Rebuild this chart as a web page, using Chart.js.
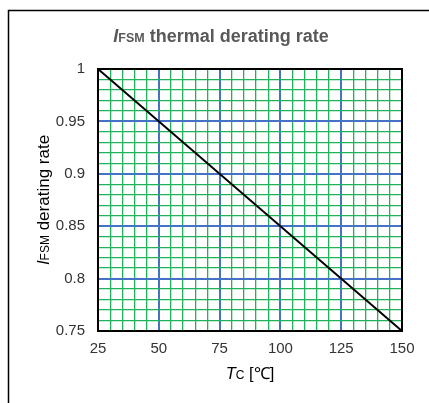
<!DOCTYPE html>
<html>
<head>
<meta charset="utf-8">
<script src="https://cdn.jsdelivr.net/npm/chart.js@4/dist/chart.umd.min.js"></script>
<style>
  html, body { margin: 0; padding: 0; background: #fff; }
  #wrap { width: 429px; height: 403px; }
</style>
</head>
<body>
<div id="wrap"><canvas id="derating"></canvas></div>
<script>
// case temperature [degC] and derating rate at the ends of the line
const tcValues = [25, 150];
const rateValues = [1, 0.75];

const xRange = [25, 150];
const yRange = [0.75, 1];

const FONT = "'Liberation Sans', Arial, sans-serif";
const GREEN = '#1fb25a';
const BLUE = '#4472c4';

Chart.defaults.font.family = FONT;
Chart.defaults.font.size = 15;
Chart.defaults.color = '#333';

// draws a run of text pieces with their own fonts, starting at x
function drawRuns(ctx, runs, x, y) {
    runs.forEach(function (r) {
        ctx.font = r.font;
        ctx.fillText(r.text, x, y);
        x += ctx.measureText(r.text).width;
    });
}
function runsWidth(ctx, runs) {
    let w = 0;
    runs.forEach(function (r) {
        ctx.font = r.font;
        w += ctx.measureText(r.text).width;
    });
    return w;
}

let labels = {
    id: 'labels',
    afterDraw: (chart) => {
        const ctx = chart.ctx;
        const area = chart.chartArea;
        ctx.save();
        ctx.textBaseline = 'alphabetic';

        // outer frame
        ctx.strokeStyle = '#000';
        ctx.lineWidth = 1.5;
        ctx.beginPath();
        ctx.moveTo(8.5, 420);
        ctx.lineTo(8.5, 10.5);
        ctx.lineTo(440, 10.5);
        ctx.stroke();

        // title
        ctx.fillStyle = '#595959';
        let title = [
            { text: 'I', font: 'italic bold 18px ' + FONT },
            { text: 'FSM', font: 'bold 12.5px ' + FONT },
            { text: ' thermal derating rate', font: 'bold 18px ' + FONT }
        ];
        let tw = runsWidth(ctx, title);
        drawRuns(ctx, title, 221 - tw / 2, 42);

        // y axis title
        ctx.fillStyle = '#000';
        let ytitle = [
            { text: 'I', font: 'italic 17px ' + FONT },
            { text: 'FSM', font: '12px ' + FONT },
            { text: ' derating rate', font: '17px ' + FONT }
        ];
        let yw = runsWidth(ctx, ytitle);
        ctx.save();
        ctx.translate(49, (area.top + area.bottom) / 2);
        ctx.rotate(-Math.PI / 2);
        drawRuns(ctx, ytitle, -yw / 2, 0);
        ctx.restore();

        // x axis title
        let xtitle = [
            { text: 'T', font: 'italic 16.5px ' + FONT },
            { text: 'C', font: '12px ' + FONT },
            { text: ' [\u2103]', font: '16.5px ' + FONT }
        ];
        let xw = runsWidth(ctx, xtitle);
        drawRuns(ctx, xtitle, (area.left + area.right) / 2 - xw / 2, 379);

        ctx.restore();
    }
};

const xMajor = (v) => Math.round(v) % 25 === 0;
const yMajor = (v) => Math.round(v * 100) % 5 === 0;

function gridColor(major) {
    return function (c) {
        if (c.tick === undefined) return GREEN;
        return major(c.tick.value) ? BLUE : GREEN;
    };
}
function gridWidth(major) {
    return function (c) {
        if (c.tick === undefined) return 1.3;
        return major(c.tick.value) ? 2 : 1.3;
    };
}

new Chart(document.getElementById('derating'), {
    type: 'scatter',
    data: {
        datasets: [{
            data: tcValues.map((t, i) => ({ x: t, y: rateValues[i] })),
            showLine: true,
            borderColor: '#000',
            borderWidth: 2,
            pointRadius: 0,
            fill: false
        }]
    },
    options: {
        responsive: true,
        maintainAspectRatio: false,
        animation: false,
        layout: { padding: { left: 0, right: 27, top: 69, bottom: 0 } },
        plugins: {
            legend: { display: false },
            tooltip: { enabled: false }
        },
        scales: {
            x: {
                type: 'linear',
                min: xRange[0],
                max: xRange[1],
                afterFit: (s) => { s.height = 72; },
                border: { display: true, color: '#000', width: 2 },
                grid: { color: gridColor(xMajor), lineWidth: gridWidth(xMajor), drawTicks: false },
                ticks: {
                    stepSize: 5,
                    autoSkip: false,
                    maxRotation: 0,
                    padding: 9,
                    callback: (v) => xMajor(v) ? String(v) : ''
                }
            },
            y: {
                type: 'linear',
                min: yRange[0],
                max: yRange[1],
                afterFit: (s) => { s.width = 98; },
                border: { display: true, color: '#000', width: 2 },
                grid: { color: gridColor(yMajor), lineWidth: gridWidth(yMajor), drawTicks: false },
                ticks: {
                    stepSize: 0.01,
                    autoSkip: false,
                    padding: 13,
                    callback: (v) => yMajor(v) ? String(Math.round(v * 100) / 100) : ''
                }
            }
        }
    },
    plugins: [labels, {
        // closes the plot box on the top and right sides
        id: 'box',
        afterDatasetsDraw: (chart) => {
            const a = chart.chartArea;
            const ctx = chart.ctx;
            ctx.save();
            ctx.strokeStyle = '#000';
            ctx.lineWidth = 2;
            ctx.strokeRect(a.left, a.top, a.right - a.left, a.bottom - a.top);
            ctx.restore();
        }
    }]
});
</script>
</body>
</html>
